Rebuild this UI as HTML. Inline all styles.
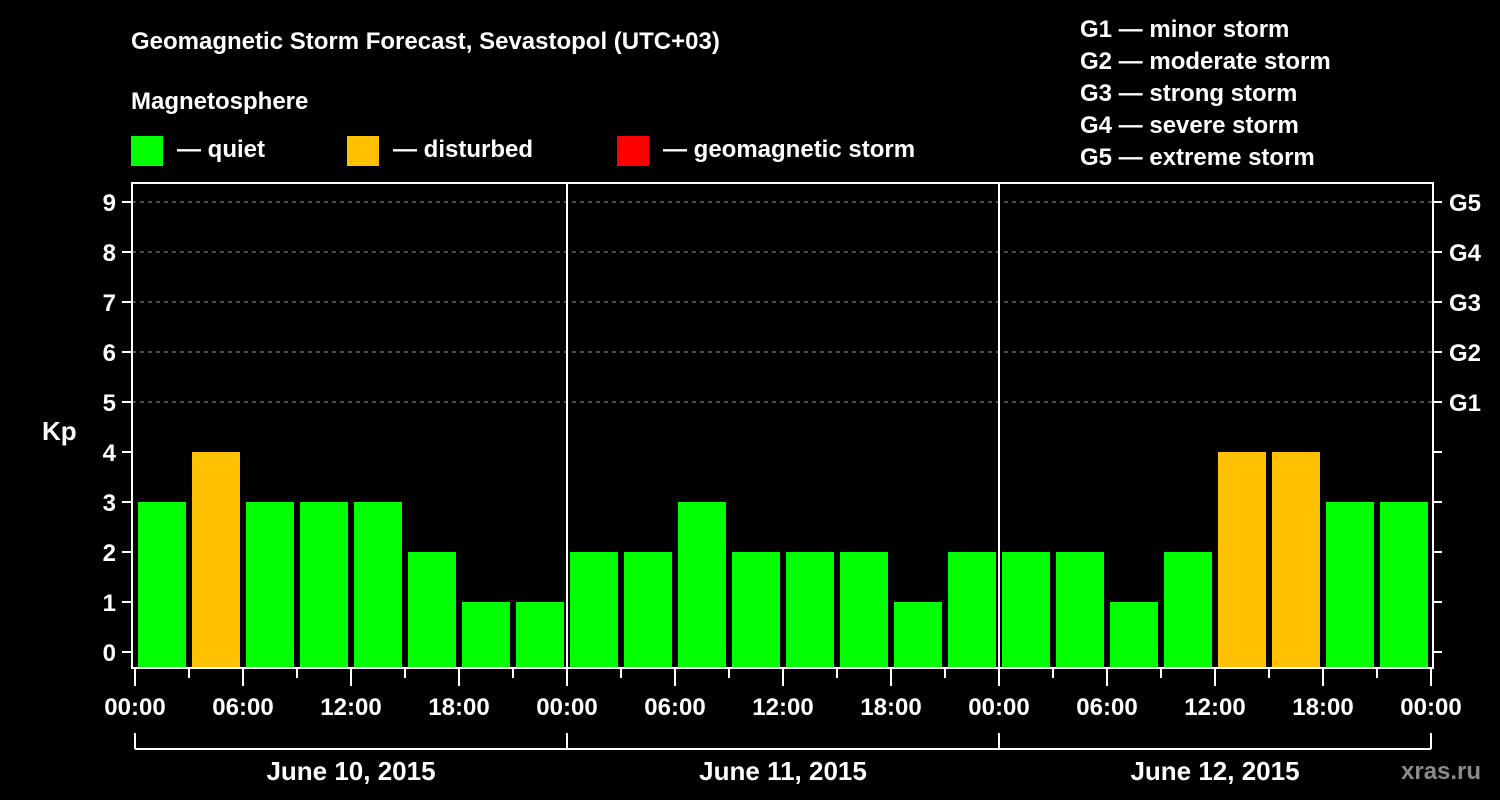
<!DOCTYPE html>
<html><head><meta charset="utf-8"><style>
body{margin:0;background:#000;width:1500px;height:800px;overflow:hidden}
svg{display:block}
text{font-family:"Liberation Sans",sans-serif;font-weight:bold;fill:#fff}
</style></head><body>
<svg id="c" width="1500" height="800">
<text x="131" y="49" font-size="24">Geomagnetic Storm Forecast, Sevastopol (UTC+03)</text>
<text x="131" y="109" font-size="24">Magnetosphere</text>
<g><rect x="131" y="136" width="32" height="30" fill="#00ff00"/><text x="177" y="157" font-size="24">— quiet</text></g>
<g><rect x="347" y="136" width="32" height="30" fill="#ffc000"/><text x="393" y="157" font-size="24">— disturbed</text></g>
<g><rect x="617" y="136" width="32" height="30" fill="#ff0000"/><text x="663" y="157" font-size="24">— geomagnetic storm</text></g>
<g font-size="24">
<text x="1080" y="37">G1 — minor storm</text>
<text x="1080" y="69">G2 — moderate storm</text>
<text x="1080" y="101">G3 — strong storm</text>
<text x="1080" y="133">G4 — severe storm</text>
<text x="1080" y="165">G5 — extreme storm</text>
</g>
<text x="42" y="440" font-size="26">Kp</text>
<text x="1401" y="779" font-size="24" fill="#999" style="fill:#8a8a8a">xras.ru</text>
<g id="grid"></g><g id="bars"></g><g id="axes"></g>
</svg>
<script>
const days = ["June 10, 2015","June 11, 2015","June 12, 2015"];
const kpValues = [3,4,3,3,3,2,1,1, 2,2,3,2,2,2,1,2, 2,2,1,2,4,4,3,3];
const yTicks = [0,1,2,3,4,5,6,7,8,9];
const gLabels = ["G1","G2","G3","G4","G5"];
const hourLabels = ["00:00","06:00","12:00","18:00"];

const NS="http://www.w3.org/2000/svg";
const X0=135, DAYW=432, SLOT=DAYW/8, Y0=652, UNIT=50, PT=183, PB=668, PL=132, PR=1433;
const xs=h=>X0+h*SLOT/3; // hours since start
const ys=v=>Y0-v*UNIT;
function mk(tag,attrs,parent){const e=document.createElementNS(NS,tag);for(const k in attrs)e.setAttribute(k,attrs[k]);parent.appendChild(e);return e;}
const grid=document.getElementById('grid'),bars=document.getElementById('bars'),axes=document.getElementById('axes');

yTicks.forEach(v=>{
  if(v>=5){const l=mk('line',{x1:PL,x2:PR,y1:ys(v),y2:ys(v),stroke:'#999','stroke-width':1,'stroke-dasharray':'4,4'},grid);
  
  }
  const t=mk('line',{x1:122,x2:PL,y1:ys(v),y2:ys(v),stroke:'#fff','stroke-width':2},axes);
  
  
  const t2=mk('line',{x1:PR,x2:1442,y1:ys(v),y2:ys(v),stroke:'#fff','stroke-width':2},axes);
  
  
  const lb=mk('text',{x:116,y:ys(v)+9,'font-size':24,'text-anchor':'end'},axes);lb.textContent=v;
  
  
});
gLabels.forEach((g,i)=>{
  const lb=mk('text',{x:1449,y:ys(5+i)+9,'font-size':24},axes);lb.textContent=g;
  
  
});
kpValues.forEach((v,i)=>{
  const c=v>=5?'#ff0000':(v>=4?'#ffc000':'#00ff00');
  const top=ys(v);
  const r=mk('rect',{x:xs(i*3)+3,y:top,width:SLOT-6,height:PB-top,fill:c},bars);
  
  
});
// frame
const fr=mk('rect',{x:PL,y:PT,width:PR-PL,height:PB-PT,fill:'none',stroke:'#fff','stroke-width':2},axes);


for(let d=1;d<days.length;d++){
  const l=mk('line',{x1:xs(d*24),x2:xs(d*24),y1:PT,y2:PB,stroke:'#fff','stroke-width':2},axes);
  
  
}
for(let h=0;h<=72;h+=3){
  const major=h%6===0;
  const l=mk('line',{x1:xs(h),x2:xs(h),y1:PB,y2:major?686:678,stroke:'#fff','stroke-width':2},axes);
  
  
  if(major){const t=mk('text',{x:xs(h),y:715,'font-size':24,'text-anchor':'middle'},axes);t.textContent=hourLabels[(h%24)/6];
  
  }
}
const br=mk('line',{x1:xs(0),x2:xs(72),y1:749,y2:749,stroke:'#fff','stroke-width':2},axes);


for(let d=0;d<=days.length;d++){
  const l=mk('line',{x1:xs(d*24),x2:xs(d*24),y1:733,y2:749,stroke:'#fff','stroke-width':2},axes);
  
  
}
days.forEach((d,i)=>{
  const t=mk('text',{x:xs(i*24+12),y:780,'font-size':26,'text-anchor':'middle'},axes);t.textContent=d;
  
  
});
</script>
</body></html>
